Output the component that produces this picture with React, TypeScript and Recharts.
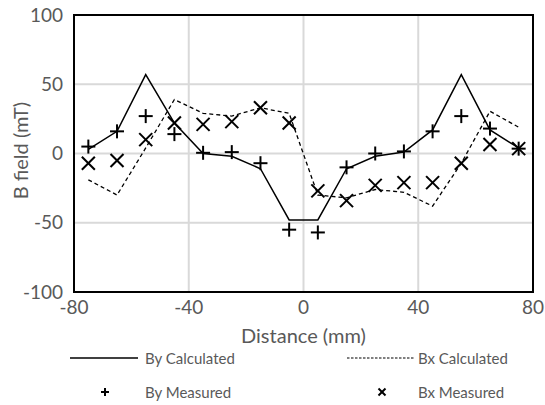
import { ComposedChart, Line, XAxis, YAxis, CartesianGrid, ReferenceArea } from "recharts";

const distance = [-75, -65, -55, -45, -35, -25, -15, -5, 5, 15, 25, 35, 45, 55, 65, 75];
const byCalculated = [3, 16, 57, 22, 0, -2, -11, -48, -48, -11, -2, 1, 17, 57, 17, 4];
const bxCalculated = [-19, -30, 4, 39, 29, 27, 33, 29, -30, -32, -26, -28, -38, -7, 30.5, 19];
const byMeasured = [5, 16, 27, 14, 0.5, 1, -7, -55, -57, -10, 0, 1.5, 16, 27, 18, 3.5];
const bxMeasured = [-7, -5, 10, 22, 21, 23, 33, 22, -27, -34, -23, -21, -21, -7, 6.5, 3.5];

const xTicks = [-80, -40, 0, 40, 80];
const yTicks = [-100, -50, 0, 50, 100];

const FONT = "Lato, 'Open Sans', sans-serif";
const GREY = "#595959";

const rows = distance.map((d, i) => ({
  d,
  byCalc: byCalculated[i],
  bxCalc: bxCalculated[i],
  byMeas: byMeasured[i],
  bxMeas: bxMeasured[i],
}));

function PlusDot(props: any) {
  const { cx, cy } = props;
  if (cx == null || cy == null) return null;
  const r = 7;
  return (
    <g stroke="#000" strokeWidth={2}>
      <line x1={cx - r} y1={cy} x2={cx + r} y2={cy} />
      <line x1={cx} y1={cy - r} x2={cx} y2={cy + r} />
    </g>
  );
}

function CrossDot(props: any) {
  const { cx, cy } = props;
  if (cx == null || cy == null) return null;
  const r = 6.5;
  return (
    <g stroke="#000" strokeWidth={2}>
      <line x1={cx - r} y1={cy - r} x2={cx + r} y2={cy + r} />
      <line x1={cx - r} y1={cy + r} x2={cx + r} y2={cy - r} />
    </g>
  );
}

// legend drawn as a plain overlay under the plot, 2 x 2 grid
function LegendBlock() {
  const text = { position: "absolute" as const, fontFamily: FONT, fontSize: 15, color: GREY, lineHeight: "20px" };
  return (
    <div style={{ position: "absolute", left: 0, top: 0, width: 545, height: 405, pointerEvents: "none" }}>
      <svg width={545} height={405} style={{ position: "absolute", left: 0, top: 0 }}>
        <line x1={70} y1={358} x2={138} y2={358} stroke="#000" strokeWidth={1.5} />
        <line x1={347} y1={358} x2={415} y2={358} stroke="#000" strokeWidth={1.2} strokeDasharray="2.5 1.5" />
        <g stroke="#000" strokeWidth={2}>
          <line x1={101} y1={392} x2={109} y2={392} />
          <line x1={105} y1={388} x2={105} y2={396} />
          <line x1={378.5} y1={388.5} x2={385.5} y2={395.5} />
          <line x1={378.5} y1={395.5} x2={385.5} y2={388.5} />
        </g>
      </svg>
      <div style={{ ...text, left: 145, top: 348 }}>By Calculated</div>
      <div style={{ ...text, left: 418, top: 348 }}>Bx Calculated</div>
      <div style={{ ...text, left: 145, top: 382 }}>By Measured</div>
      <div style={{ ...text, left: 418, top: 382 }}>Bx Measured</div>
    </div>
  );
}

export default function App() {
  return (
    <div style={{ position: "absolute", left: 0, top: 0, width: 545, height: 405, background: "#fff" }}>
      <ComposedChart width={545} height={405} data={rows} margin={{ top: 15, right: 12, bottom: 0, left: 0 }}>
        <CartesianGrid stroke="#d9d9d9" strokeWidth={2} />
        <XAxis
          dataKey="d"
          type="number"
          domain={[-80, 80]}
          ticks={xTicks}
          height={113}
          axisLine={false}
          tickLine={false}
          tickSize={0}
          tickMargin={9}
          tick={{ fill: GREY, fontSize: 19, fontFamily: FONT }}
          label={{
            value: "Distance (mm)",
            position: "insideTop",
            offset: 37,
            fill: GREY,
            fontSize: 20,
            fontFamily: FONT,
          }}
        />
        <YAxis
          type="number"
          domain={[-100, 100]}
          ticks={yTicks}
          width={74}
          axisLine={false}
          tickLine={false}
          tickSize={0}
          tickMargin={11}
          tick={{ fill: GREY, fontSize: 19, fontFamily: FONT }}
          label={{
            content: (p: any) => {
              const vb = p.viewBox;
              const cx = vb.x + 20;
              const cy = vb.y + vb.height / 2 - 3;
              return (
                <text
                  x={cx}
                  y={cy}
                  transform={`rotate(-90 ${cx} ${cy})`}
                  textAnchor="middle"
                  dominantBaseline="central"
                  fill={GREY}
                  fontSize={20}
                  fontFamily={FONT}
                >
                  B field (mT)
                </text>
              );
            },
          }}
        />
        <ReferenceArea x1={-80} x2={80} y1={-100} y2={100} fill="none" stroke="#000" strokeWidth={2} ifOverflow="visible" />
        <Line dataKey="byCalc" stroke="#000" strokeWidth={1.5} dot={false} isAnimationActive={false} />
        <Line dataKey="bxCalc" stroke="#000" strokeWidth={1.3} strokeDasharray="4 3" dot={false} isAnimationActive={false} />
        <Line dataKey="byMeas" stroke="none" dot={<PlusDot />} activeDot={false} isAnimationActive={false} />
        <Line dataKey="bxMeas" stroke="none" dot={<CrossDot />} activeDot={false} isAnimationActive={false} />
      </ComposedChart>
      <LegendBlock />
    </div>
  );
}
